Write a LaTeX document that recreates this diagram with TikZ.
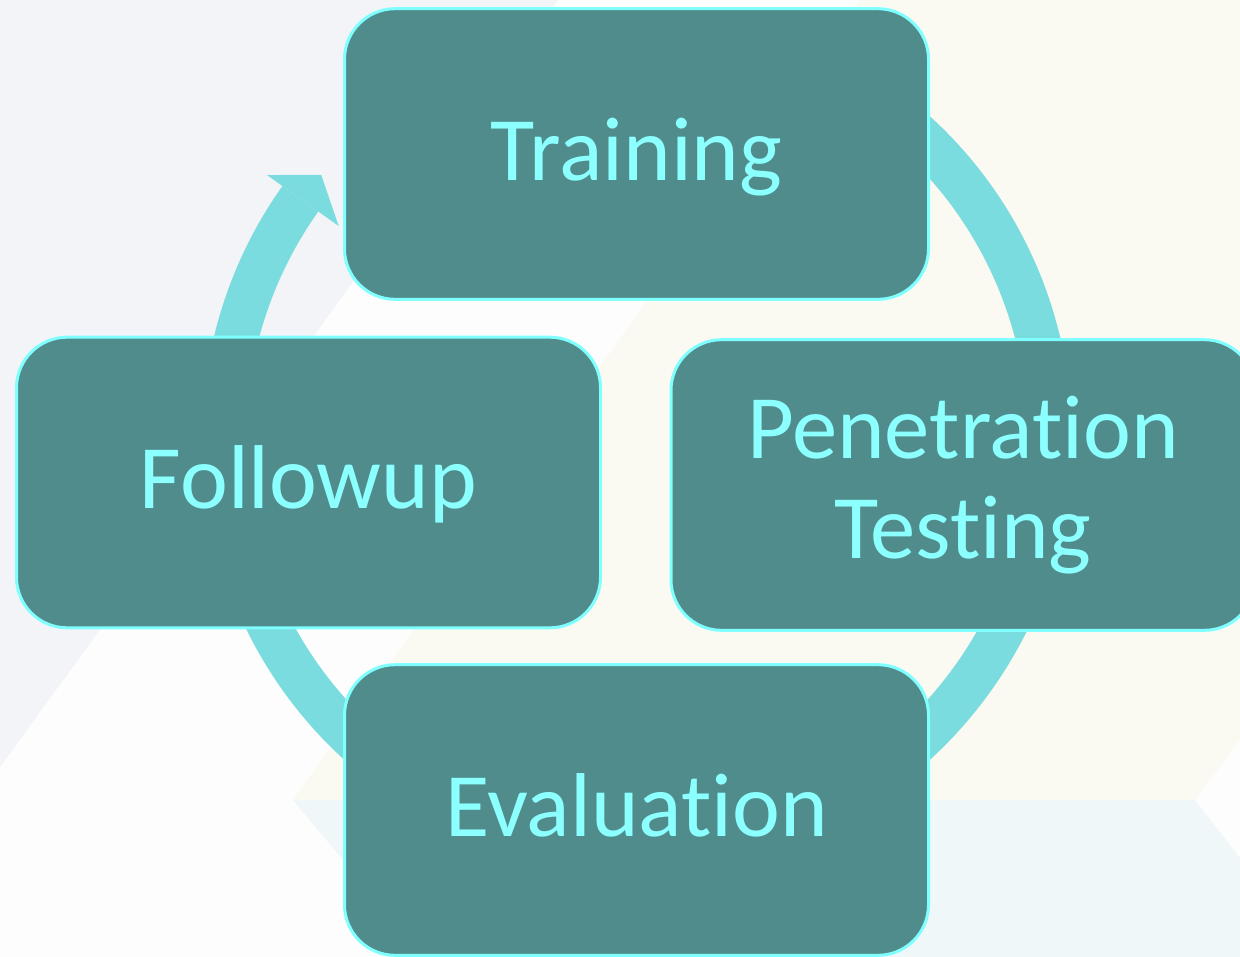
\documentclass[tikz,border=0pt]{standalone}
\usepackage{fontspec}
\setmainfont{Carlito}[Ligatures={NoCommon,NoContextual,NoRequired}]
\usepackage{tikz}
\definecolor{cfdfdfd}{RGB}{253,253,253}
\definecolor{cf3f4f8}{RGB}{243,244,248}
\definecolor{cfafaf2}{RGB}{250,250,242}
\definecolor{cf0f7f9}{RGB}{240,247,249}
\definecolor{c7adcde}{RGB}{122,220,222}
\definecolor{c508c8c}{RGB}{80,140,140}
\definecolor{c80ffff}{RGB}{128,255,255}
\definecolor{c8cffff}{RGB}{140,255,255}

\begin{document}
\begin{tikzpicture}[y=0.75pt, x=0.75pt, yscale=-1, inner sep=0pt, outer sep=0pt,
  cyclebox/.style={draw=c80ffff, fill=c508c8c, text=c8cffff, line width=2.25pt,
    rounded corners=38pt, minimum width=438pt, minimum height=218pt,
    align=center, font=\fontsize{68}{75}\selectfont},
  oneline/.style={text height=45pt, text depth=6pt}]
  \useasboundingbox (0,0) rectangle (1240,957);
  \clip (0,0) rectangle (1240,957);
  % faint background panels
  \path[fill=cfdfdfd] (0,0) rectangle (1240,957);
  \path[fill=cf3f4f8] (0,0) -- (558,0) -- (0,767) -- cycle;
  \path[fill=cfafaf2] (860,0) -- (1240,0) -- (1240,740) -- (1195,800) --
    (293,800) -- cycle;
  \path[fill=cf0f7f9] (293,800) -- (1195,800) -- (1240,858) -- (1240,957) --
    (424,957) -- cycle;
  % ring arrow behind the boxes
  \coordinate (hub) at (637,438);
  \path[draw=c7adcde, line width=33pt] (hub) ++(-55:413)
    arc[start angle=-55, end angle=215.4, radius=413];
  \path[fill=c7adcde] (hub) +(215.4:454) -- +(219.8:411) -- +(215.4:366) -- cycle;
  % the four steps
  \node[cyclebox, oneline] (training) at (636.5,154) {Training};
  \node[cyclebox] (pentest) at (963,485) {Penetration\\Testing};
  \node[cyclebox, oneline] (evaluation) at (636.5,810) {Evaluation};
  \node[cyclebox, oneline] (followup) at (308.5,482.5) {Followup};
\end{tikzpicture}
\end{document}
